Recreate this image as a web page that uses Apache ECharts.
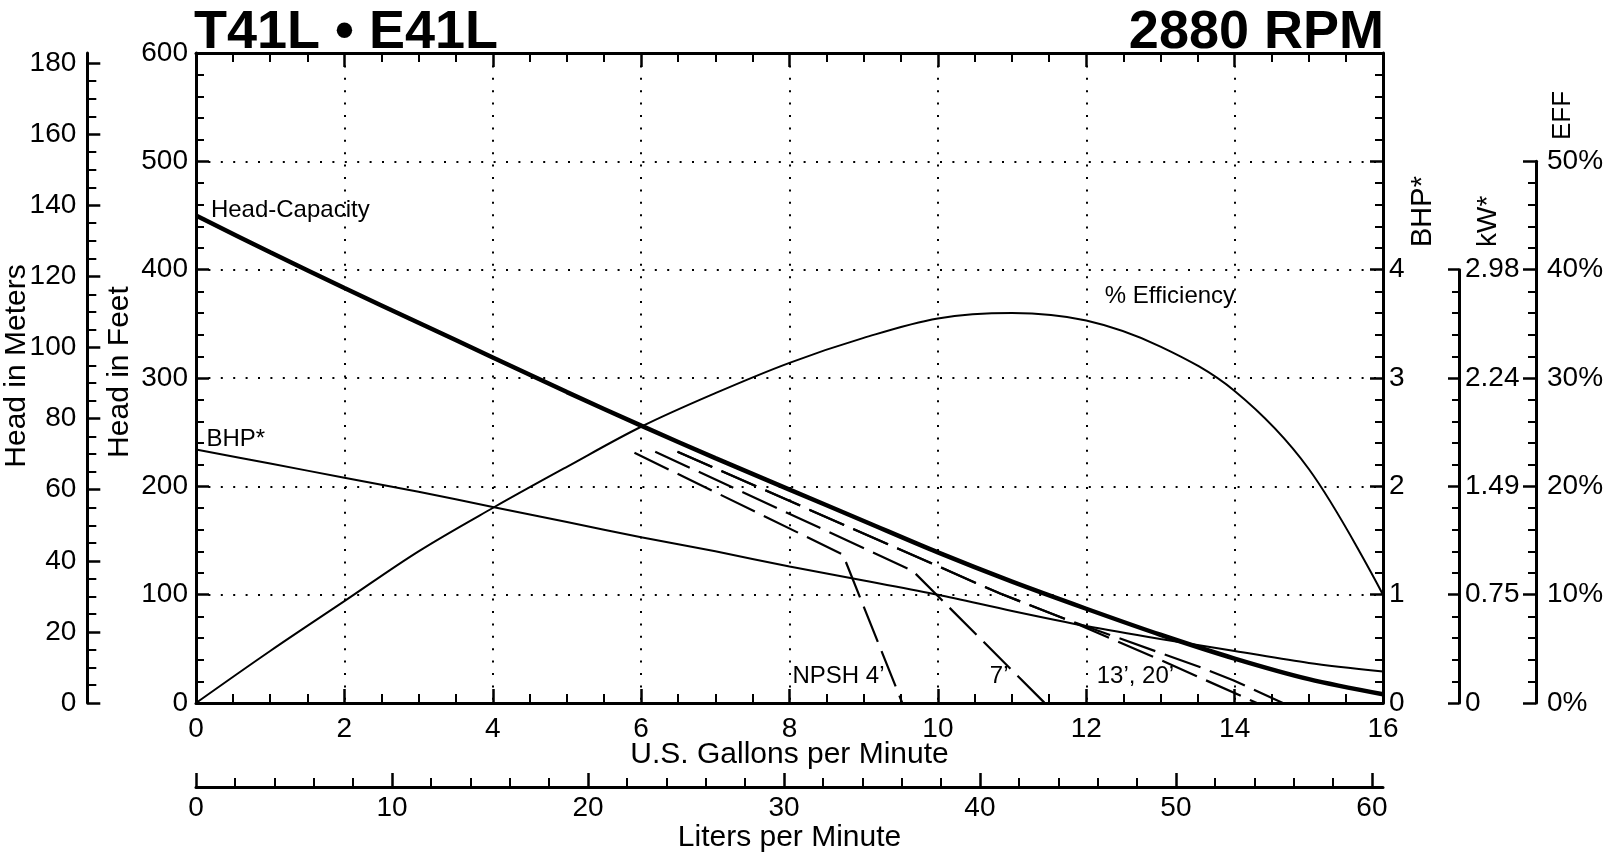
<!DOCTYPE html>
<html>
<head>
<meta charset="utf-8">
<title>T41L • E41L 2880 RPM</title>
<script src="https://cdn.jsdelivr.net/npm/echarts@6.0.0/dist/echarts.min.js"></script>
<style>
    html, body { margin: 0; padding: 0; background: #fff; }
    #container { width: 1608px; height: 855px; }
</style>
</head>
<body>
<div id="container"></div>
<script type="text/javascript">
    // values, flow in U.S. gpm
    var gpm = [0, 1, 2, 3, 4, 5, 6, 7, 8, 9, 10, 11, 12, 13, 14, 15, 16];
    var headFt = [450, 416, 383, 351, 319, 287, 256, 226, 197, 168, 139, 112, 87, 63, 41, 22, 8];
    var bhp = [2.34, 2.21, 2.08, 1.95, 1.81, 1.67, 1.53, 1.40, 1.26, 1.13, 1.00, 0.85, 0.71, 0.59, 0.48, 0.37, 0.29];
    var effPct = [0, 4.8, 9.4, 14.0, 18.0, 21.8, 25.5, 28.6, 31.4, 33.7, 35.5, 36.0, 35.3, 32.9, 28.8, 21.6, 10];

    // NPSH limit lines [gpm, ft]
    var npsh4 = [[5.91, 231], [8.72, 137], [9.52, 0]];
    var npsh7 = [[6.19, 232], [9.66, 122], [11.44, 0]];
    var npsh13 = [[6.49, 232], [10.84, 101], [11.7, 78], [13.04, 38.6], [13.49, 24.7], [14.3, 0]];
    var npsh20 = [[6.49, 232], [10.84, 101], [11.7, 78], [13.54, 33], [13.98, 21], [14.65, 0]];

    // in-plot notes [gpm, ft]
    var noteText = ['Head-Capacity', 'BHP*', '% Efficiency', 'NPSH 4\u2019', '7\u2019', '13\u2019, 20\u2019'];
    var noteGpm = [0.2, 0.14, 12.25, 8.04, 10.7, 12.14];
    var noteFt = [455, 243.5, 375, 24.3, 24.3, 24.3];

    // secondary scales
    var meterMajor = [0, 20, 40, 60, 80, 100, 120, 140, 160, 180];
    var meterMinor = [];
    for (var m = 5; m < 182; m += 5) { if (m % 20) meterMinor.push(m); }
    var literMajor = [0, 10, 20, 30, 40, 50, 60];
    var literMinor = [];
    for (var l = 2; l < 60; l += 2) { if (l % 10) literMinor.push(l); }
    var kwLabels = ['0', '0.75', '1.49', '2.24', '2.98'];

    var FT_TO_M = 0.3048, GAL_TO_L = 3.785411784;

    var FONT = 'Liberation Sans';
    var INK = '#000';
    var L = 196, T = 53, W = 1187, H = 650;

    function zip(xs, ys) { return xs.map(function (x, i) { return [x, ys[i]]; }); }
    function tick(len, w, vals) {
        var t = { show: true, inside: true, length: len, lineStyle: { color: INK, width: w } };
        if (vals) t.customValues = vals;
        return t;
    }
    function minor(len, n) {
        return { show: true, splitNumber: n, length: len, lineStyle: { color: INK, width: 2 } };
    }
    var axLine = { show: true, onZero: false, lineStyle: { color: INK, width: 3 } };
    var noLine = { show: false, onZero: false };
    var dotted = { show: true, lineStyle: { color: INK, width: 2, type: [2, 10.4] } };
    var lbl = { color: INK, fontSize: 28, fontFamily: FONT };
    var nameStyle = { color: INK, fontSize: 30, fontFamily: FONT };

    var dom = document.getElementById('container');
    var myChart = echarts.init(dom);

    var option = {
        animation: false,
        backgroundColor: '#fff',
        textStyle: { fontFamily: FONT, color: INK },
        title: [
            { text: 'T41L \u2022 E41L', left: 194, top: 6, padding: 0,
              textStyle: { fontSize: 54, fontWeight: 'bold', color: INK, fontFamily: FONT } },
            { text: '2880 RPM', right: 224, top: 6, padding: 0,
              textStyle: { fontSize: 54, fontWeight: 'bold', color: INK, fontFamily: FONT } }
        ],
        grid: [
            { left: L, top: T, width: W, height: H, outerBoundsMode: 'none', containLabel: false },
            { left: L, top: T + H * (1 - 500 / 600), width: W, height: H * 500 / 600, outerBoundsMode: 'none', containLabel: false },
            { left: L, top: T + H * (1 - 400 / 600), width: W, height: H * 400 / 600, outerBoundsMode: 'none', containLabel: false }
        ],
        xAxis: [
            { type: 'value', gridIndex: 0, position: 'bottom', min: 0, max: 16, interval: 2,
              axisLine: axLine, axisTick: tick(14, 2.5), minorTick: minor(9, 4),
              splitLine: dotted, axisLabel: Object.assign({ margin: 12 }, lbl),
              name: 'U.S. Gallons per Minute', nameLocation: 'middle', nameGap: 37, nameMoveOverlap: false,
              nameTextStyle: nameStyle },
            { type: 'value', gridIndex: 0, position: 'top', min: 0, max: 16, interval: 2,
              axisLine: axLine, axisTick: tick(14, 2.5), minorTick: minor(9, 4),
              splitLine: { show: false }, axisLabel: { show: false } },
            { type: 'value', gridIndex: 0, position: 'bottom', offset: 84, min: 0, max: 16 * GAL_TO_L, interval: 10,
              axisLine: axLine, axisTick: tick(14, 2.5, literMajor),
              splitLine: { show: false },
              axisLabel: Object.assign({ margin: 7, customValues: literMajor }, lbl),
              name: 'Liters per Minute', nameLocation: 'middle', nameGap: 36, nameMoveOverlap: false,
              nameTextStyle: nameStyle },
            { type: 'value', gridIndex: 0, position: 'bottom', offset: 84, min: 0, max: 16 * GAL_TO_L,
              axisLine: noLine, axisTick: tick(9, 2, literMinor),
              splitLine: { show: false }, axisLabel: { show: false } },
            { type: 'value', gridIndex: 1, min: 0, max: 16, show: false },
            { type: 'value', gridIndex: 2, min: 0, max: 16, show: false }
        ],
        yAxis: [
            { type: 'value', gridIndex: 0, position: 'left', min: 0, max: 600, interval: 100,
              axisLine: axLine, axisTick: tick(13, 2.5), minorTick: minor(8, 5),
              splitLine: dotted, axisLabel: Object.assign({ margin: 8 }, lbl),
              name: 'Head in Feet', nameLocation: 'middle', nameGap: 61, nameMoveOverlap: false,
              nameTextStyle: Object.assign({ padding: [0, 0, 0, 12] }, nameStyle) },
            { type: 'value', gridIndex: 0, position: 'left', offset: 108.7, min: 0, max: 600 * FT_TO_M, interval: 20,
              axisLine: axLine, axisTick: tick(13, 2.5, meterMajor),
              splitLine: { show: false },
              axisLabel: Object.assign({ margin: 11, customValues: meterMajor }, lbl),
              name: 'Head in Meters', nameLocation: 'middle', nameGap: 56, nameMoveOverlap: false,
              nameTextStyle: Object.assign({ padding: [0, 0, 0, 24] }, nameStyle) },
            { type: 'value', gridIndex: 0, position: 'left', offset: 108.7, min: 0, max: 600 * FT_TO_M,
              axisLine: noLine, axisTick: tick(9, 2, meterMinor),
              splitLine: { show: false }, axisLabel: { show: false } },
            { type: 'value', gridIndex: 0, position: 'right', min: 0, max: 6, interval: 1,
              axisLine: axLine, axisTick: tick(13, 2.5), minorTick: minor(8, 5),
              splitLine: { show: false },
              axisLabel: Object.assign({ margin: 6, formatter: function (v) { return v <= 4 ? String(v) : ''; } }, lbl) },
            { type: 'value', gridIndex: 2, position: 'right', offset: 76, min: 0, max: 4, interval: 1,
              axisLine: axLine, axisTick: tick(11, 2.5), minorTick: minor(7, 5),
              splitLine: { show: false },
              axisLabel: Object.assign({ margin: 6, formatter: function (v) { return kwLabels[v]; } }, lbl) },
            { type: 'value', gridIndex: 1, position: 'right', offset: 153, min: 0, max: 50, interval: 10,
              axisLine: axLine, axisTick: tick(13, 2.5), minorTick: minor(8, 5),
              splitLine: { show: false },
              axisLabel: Object.assign({ margin: 11, formatter: '{value}%' }, lbl) }
        ],
        graphic: [
            { type: 'text', x: 1423, y: 247, rotation: Math.PI / 2,
              style: { text: 'BHP*', font: '29px ' + FONT, fill: INK, align: 'left', verticalAlign: 'middle', textAlign: 'left', textVerticalAlign: 'middle' } },
            { type: 'text', x: 1488, y: 247, rotation: Math.PI / 2,
              style: { text: 'kW*', font: '28px ' + FONT, fill: INK, align: 'left', verticalAlign: 'middle', textAlign: 'left', textVerticalAlign: 'middle' } },
            { type: 'text', x: 1563, y: 140, rotation: Math.PI / 2,
              style: { text: 'EFF', font: '26px ' + FONT, fill: INK, align: 'left', verticalAlign: 'middle', textAlign: 'left', textVerticalAlign: 'middle' } }
        ],
        series: [
            { name: 'Head-Capacity', type: 'line', xAxisIndex: 0, yAxisIndex: 0, data: zip(gpm, headFt),
              smooth: 0.3, symbol: 'none', lineStyle: { color: INK, width: 4.5 }, z: 5 },
            { name: 'BHP', type: 'line', xAxisIndex: 0, yAxisIndex: 3, data: zip(gpm, bhp),
              smooth: 0.3, symbol: 'none', lineStyle: { color: INK, width: 2 } },
            { name: 'Efficiency', type: 'line', xAxisIndex: 4, yAxisIndex: 5, data: zip(gpm, effPct),
              smooth: 0.35, symbol: 'none', lineStyle: { color: INK, width: 2 } },
            { name: 'NPSH 4', type: 'line', xAxisIndex: 0, yAxisIndex: 0, data: npsh4,
              symbol: 'none', lineStyle: { color: INK, width: 2.2, type: [38, 10] } },
            { name: 'NPSH 7', type: 'line', xAxisIndex: 0, yAxisIndex: 0, data: npsh7,
              symbol: 'none', lineStyle: { color: INK, width: 2.2, type: [38, 10] } },
            { name: 'NPSH 13', type: 'line', xAxisIndex: 0, yAxisIndex: 0, data: npsh13,
              symbol: 'none', lineStyle: { color: INK, width: 2.2, type: [38, 10] } },
            { name: 'NPSH 20', type: 'line', xAxisIndex: 0, yAxisIndex: 0, data: npsh20,
              symbol: 'none', lineStyle: { color: INK, width: 2.2, type: [38, 10] } },
            { name: 'notes', type: 'scatter', xAxisIndex: 0, yAxisIndex: 0, silent: true,
              symbolSize: 0.1, itemStyle: { color: 'transparent', opacity: 1 },
              data: noteText.map(function (t, i) { return { name: t, value: [noteGpm[i], noteFt[i]] }; }),
              label: { show: true, position: 'right', distance: 0, formatter: '{b}', opacity: 1,
                       color: INK, fontSize: 24, fontFamily: FONT } }
        ]
    };

    if (option && typeof option === 'object') {
        myChart.setOption(option);
    }
</script>
</body>
</html>
